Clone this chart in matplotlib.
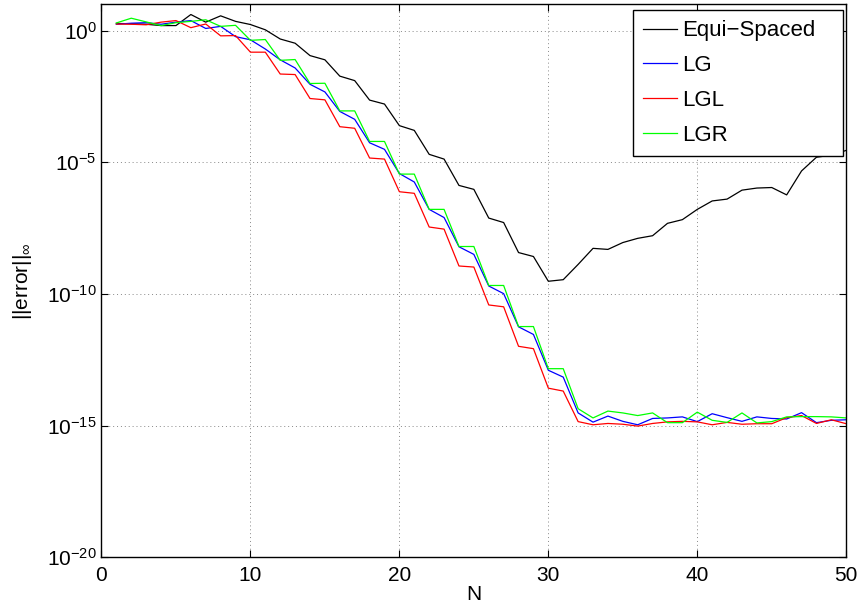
import numpy as np
import matplotlib
matplotlib.use('Agg')
import matplotlib.pyplot as plt
from matplotlib.ticker import FixedLocator, NullLocator, LogFormatterSciNotation

plt.rcParams['font.family'] = ['Liberation Sans', 'DejaVu Sans']
plt.rcParams['mathtext.default'] = 'regular'

N = np.arange(1, 51)
ytick_vals = [1e-20, 1e-15, 1e-10, 1e-5, 1e0]

# log10 of the max error
equi_log10 = [0.27, 0.26, 0.24, 0.19, 0.19, 0.61, 0.32, 0.56, 0.35, 0.23,
              0.03, -0.32, -0.48, -0.95, -1.11, -1.73, -1.90, -2.64, -2.79, -3.61,
              -3.79, -4.70, -4.88, -5.88, -6.03, -7.12, -7.29, -8.43, -8.58, -9.52,
              -9.46, -8.88, -8.27, -8.31, -8.05, -7.89, -7.79, -7.32, -7.18, -6.79,
              -6.47, -6.40, -6.06, -5.98, -5.96, -6.24, -5.33, -4.81, -4.73, -4.55]
lg_log10 = [0.24, 0.28, 0.30, 0.24, 0.32, 0.38, 0.08, 0.16, -0.23, -0.35,
            -0.70, -1.11, -1.42, -2.04, -2.33, -3.07, -3.37, -4.26, -4.51, -5.43,
            -5.75, -6.79, -7.10, -8.21, -8.50, -9.70, -9.99, -11.25, -11.54, -12.90,
            -13.16, -14.52, -14.87, -14.64, -14.84, -14.97, -14.73, -14.71, -14.67, -14.85,
            -14.55, -14.70, -14.84, -14.67, -14.73, -14.75, -14.51, -14.89, -14.80, -14.78]
lgl_log10 = [0.25, 0.24, 0.22, 0.32, 0.38, 0.11, 0.25, -0.20, -0.19, -0.82,
             -0.82, -1.65, -1.67, -2.58, -2.63, -3.65, -3.71, -4.84, -4.88, -6.12,
             -6.18, -7.46, -7.54, -8.94, -8.98, -10.42, -10.49, -11.99, -12.08, -13.58,
             -13.69, -14.85, -14.97, -14.92, -14.95, -15.02, -14.92, -14.86, -14.84, -14.86,
             -14.97, -14.88, -14.95, -14.93, -14.93, -14.70, -14.62, -14.92, -14.78, -14.93]
lgr_log10 = [0.29, 0.47, 0.33, 0.19, 0.30, 0.35, 0.41, 0.16, 0.20, -0.37,
             -0.34, -1.13, -1.10, -2.01, -2.00, -3.05, -3.05, -4.21, -4.21, -5.45,
             -5.45, -6.79, -6.79, -8.20, -8.20, -9.68, -9.68, -11.24, -11.24, -12.84,
             -12.84, -14.36, -14.71, -14.45, -14.52, -14.62, -14.52, -14.89, -14.89, -14.49,
             -14.80, -14.88, -14.52, -14.90, -14.85, -14.67, -14.66, -14.66, -14.67, -14.71]

series = [('Equi\u2212Spaced', equi_log10, '#000000'),
          ('LG', lg_log10, '#0000ff'),
          ('LGL', lgl_log10, '#ff0000'),
          ('LGR', lgr_log10, '#00ff00')]

fig = plt.figure(figsize=(8.6, 6.07), dpi=100)
ax = fig.add_axes([0.118, 0.082, 0.866, 0.911])

for name, vals, col in series:
    ax.semilogy(N, 10.0 ** np.array(vals), color=col, lw=0.9, label=name)

ax.set_xlim(0, 50)
ax.set_ylim(1e-20, 1e1)
ax.set_xticks([0, 10, 20, 30, 40, 50])
ax.yaxis.set_major_locator(FixedLocator(ytick_vals))
ax.yaxis.set_major_formatter(LogFormatterSciNotation())
ax.yaxis.set_minor_locator(NullLocator())

ax.grid(True, linestyle=(0, (1, 3)), color='#888888', lw=0.7)
ax.tick_params(direction='in', top=True, right=True, length=5, width=0.8, labelsize=15)
ax.tick_params(axis='x', pad=6)
for s in ax.spines.values():
    s.set_linewidth(1.0)

ax.set_xlabel('N', fontsize=15, labelpad=0)
ax.set_ylabel(r'||error||$_\infty$', fontsize=15, labelpad=9)

# legend box stretched like the matlab one (empty space on the right)
leg = ax.legend(loc='upper right', bbox_to_anchor=(0.714, 0.70, 0.281, 0.289),
                mode='expand', fontsize=16, fancybox=False, framealpha=1,
                edgecolor='black', borderaxespad=0.0, handlelength=1.5,
                handletextpad=0.25, labelspacing=0.62, borderpad=0.45)
leg.get_frame().set_linewidth(1.0)

fig.savefig('out.png', dpi=100)
